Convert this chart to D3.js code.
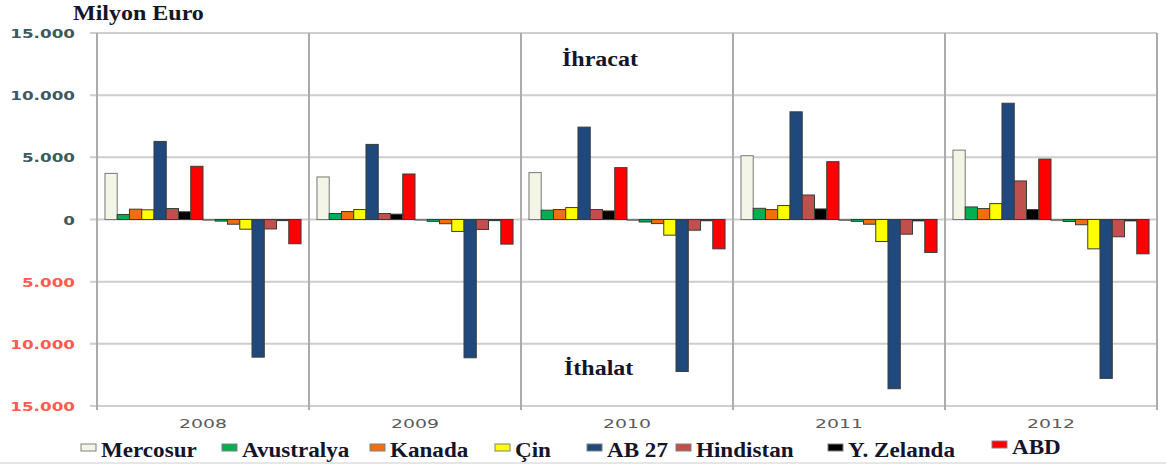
<!DOCTYPE html>
<html>
<head>
<meta charset="utf-8">
<script src="https://cdn.jsdelivr.net/npm/d3@7"></script>
<style>
body { margin: 0; background: #fff; }
svg { display: block; }
.t_serif { font-family: "Liberation Serif", "Times New Roman", serif; font-weight: bold; fill: #14142a; }
.t_ylab { font-family: "DejaVu Sans", Verdana, sans-serif; font-weight: bold; font-size: 12px; }
.t_year { font-family: "DejaVu Sans", Verdana, sans-serif; font-size: 13px; fill: #5a5a5a; }
</style>
</head>
<body>
<svg width="1166" height="465"></svg>
<script>
/* ----------------------------------------------------------
data
---------------------------------------------------------- */

var years = ["2008", "2009", "2010", "2011", "2012"];
var countries = ["Mercosur", "Avustralya", "Kanada", "Çin", "AB 27", "Hindistan", "Y. Zelanda", "ABD"];
var colors = ["#f3f6e6", "#00b050", "#f07010", "#ffff00", "#1f497d", "#c0504d", "#000000", "#ff0000"];
var yTicks = [-15000, -10000, -5000, 0, 5000, 10000, 15000];

// ihracat (milyon euro), one array per country, 2008..2012
var ihracat = {
  "Mercosur":   [3710, 3420, 3770, 5130, 5580],
  "Avustralya": [400, 480, 750, 900, 1010],
  "Kanada":     [830, 640, 800, 800, 880],
  "Çin":        [780, 800, 960, 1120, 1280],
  "AB 27":      [6280, 6040, 7430, 8660, 9350],
  "Hindistan":  [880, 480, 800, 1970, 3100],
  "Y. Zelanda": [620, 430, 690, 850, 800],
  "ABD":        [4280, 3660, 4170, 4650, 4860]
};

// ithalat (milyon euro), drawn below zero
var ithalat = {
  "Mercosur":   [60, 60, 70, 80, 90],
  "Avustralya": [130, 150, 200, 150, 160],
  "Kanada":     [380, 340, 330, 380, 420],
  "Çin":        [780, 960, 1260, 1770, 2360],
  "AB 27":      [11070, 11120, 12220, 13610, 12780],
  "Hindistan":  [760, 800, 860, 1180, 1390],
  "Y. Zelanda": [90, 90, 100, 110, 110],
  "ABD":        [1950, 1980, 2360, 2650, 2760]
};

/* ----------------------------------------------------------
setting
---------------------------------------------------------- */

var plot = { left: 97, right: 1157, top: 33, bottom: 406 };
var legendX = [81, 222, 370, 495, 587, 676, 828, 992];
var legendDy = [0, 0, 0, 0, 0, 0, 0, -3];

var svg = d3.select("svg");

var x0 = d3.scaleBand().domain(years).range([plot.left, plot.right]).padding(0);
var keys = [];
countries.forEach(function (c) { keys.push("ih|" + c) });
countries.forEach(function (c) { keys.push("it|" + c) });
var x1 = d3.scaleBand().domain(keys).range([0, x0.bandwidth()]).paddingInner(0).paddingOuter(0.65);
var y = d3.scaleLinear().domain([-15000, 15000]).range([plot.bottom, plot.top]);

var fmt = d3.formatLocale({ decimal: ",", thousands: ".", grouping: [3], currency: ["", ""] }).format(",");

function addStretchText(g, cls, x, yy, txt, sx, anchor) {
  return g.append("text")
    .attr("class", cls)
    .attr("transform", "translate(" + x + "," + yy + ") scale(" + sx + ",1)")
    .attr("text-anchor", anchor || "start")
    .text(txt);
}

/* ----------------------------------------------------------
grid
---------------------------------------------------------- */

var grid = svg.append("g");
grid.selectAll(".hgrid").data(yTicks).enter().append("line")
  .attr("x1", plot.left - 7).attr("x2", plot.right)
  .attr("y1", function (d) { return y(d) }).attr("y2", function (d) { return y(d) })
  .style("stroke", "#cdcdcd").style("stroke-width", 2);

var seps = years.map(function (d) { return x0(d) }).concat([plot.right]);
grid.selectAll(".vgrid").data(seps).enter().append("line")
  .attr("x1", function (d) { return d }).attr("x2", function (d) { return d })
  .attr("y1", plot.top).attr("y2", plot.bottom + 4)
  .style("stroke", "#ababab").style("stroke-width", 2);

/* ----------------------------------------------------------
bars
---------------------------------------------------------- */

var rows = [];
years.forEach(function (yr, i) {
  countries.forEach(function (c, j) {
    rows.push({ year: yr, key: "ih|" + c, v: ihracat[c][i], col: colors[j], c: c });
    rows.push({ year: yr, key: "it|" + c, v: -ithalat[c][i], col: colors[j], c: c });
  });
});

svg.append("g").selectAll("rect").data(rows).enter().append("rect")
  .attr("x", function (d) { return x0(d.year) + x1(d.key) })
  .attr("width", x1.bandwidth())
  .attr("y", function (d) { return y(Math.max(0, d.v)) })
  .attr("height", function (d) { return Math.abs(y(d.v) - y(0)) })
  .style("fill", function (d) { return d.col })
  .style("stroke", function (d) { return d.c == "Mercosur" ? "#777" : "#3a3a3a" })
  .style("stroke-width", 1);

/* ----------------------------------------------------------
axis labels
---------------------------------------------------------- */

var yl = svg.append("g");
yTicks.forEach(function (t) {
  addStretchText(yl, "t_ylab", 75, y(t) + 5, fmt(Math.abs(t)), 1.4, "end")
    .style("fill", t < 0 ? "#ff5a50" : "#3b5a60");
});

var xl = svg.append("g");
years.forEach(function (yr) {
  addStretchText(xl, "t_year", x0(yr) + x0.bandwidth() / 2, 428, yr, 1.45, "middle");
});

/* ----------------------------------------------------------
texts
---------------------------------------------------------- */

var tx = svg.append("g");
addStretchText(tx, "t_serif", 73, 20, "Milyon Euro", 1.2).style("font-size", "20px");
addStretchText(tx, "t_serif", 562, 66, "İhracat", 1.2).style("font-size", "20px");
addStretchText(tx, "t_serif", 564, 375, "İthalat", 1.2).style("font-size", "20px");

// legend
var lg = svg.append("g");
countries.forEach(function (c, i) {
  lg.append("rect")
    .attr("x", legendX[i]).attr("y", 444 + legendDy[i])
    .attr("width", 15).attr("height", 7)
    .style("fill", colors[i])
    .style("stroke", "#808080").style("stroke-width", 1);
  addStretchText(lg, "t_serif", legendX[i] + 20, 457 + legendDy[i], c, 1.1).style("font-size", "21px");
});

svg.append("line")
  .attr("x1", 0).attr("x2", 1166).attr("y1", 463).attr("y2", 463)
  .style("stroke", "#e6e6e6").style("stroke-width", 2);
</script>
</body>
</html>
